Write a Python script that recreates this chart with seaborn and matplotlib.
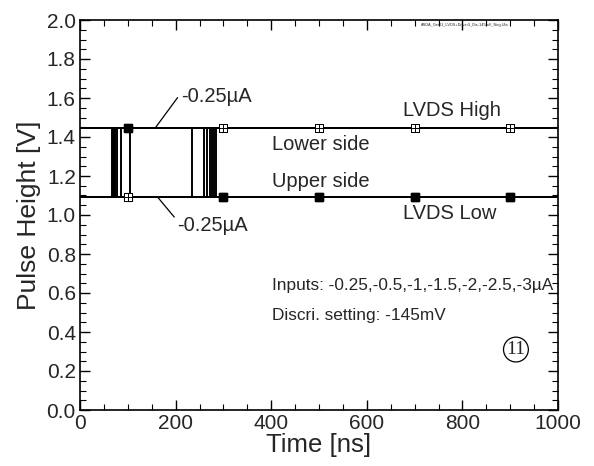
import numpy as np
import pandas as pd
import matplotlib
matplotlib.use("Agg")
import matplotlib.pyplot as plt
from matplotlib.path import Path
from matplotlib.ticker import MultipleLocator
import seaborn as sns

# ---- data ----
inputs_uA = ["-0.25", "-0.5", "-1", "-1.5", "-2", "-2.5", "-3"]
rise_ns = [105, 86, 78, 74, 71, 68, 66]
fall_ns = [234, 259, 265, 271, 276, 281, 285]
lvds_high = 1.445
lvds_low = 1.09
t_start, t_end = 0, 1000
marker_ns = [100, 300, 500, 700, 900]

x_ticks = [0, 200, 400, 600, 800, 1000]
y_ticks = [0.0, 0.2, 0.4, 0.6, 0.8, 1.0, 1.2, 1.4, 1.6, 1.8, 2.0]

# ---- build long-form traces ----
rows = []
for inp, r, f in zip(inputs_uA, rise_ns, fall_ns):
    t = [t_start, r, r, f, f, t_end]
    pos = [lvds_low, lvds_low, lvds_high, lvds_high, lvds_low, lvds_low]
    neg = [lvds_high, lvds_high, lvds_low, lvds_low, lvds_high, lvds_high]
    for ti, v in zip(t, pos):
        rows.append(dict(trace=f"{inp}+", time=ti, V=v))
    for ti, v in zip(t, neg):
        rows.append(dict(trace=f"{inp}-", time=ti, V=v))
df = pd.DataFrame(rows)

sns.set_style("ticks")
plt.rcParams["font.family"] = ["Liberation Sans", "DejaVu Sans"]
plt.rcParams["xtick.direction"] = "in"
plt.rcParams["ytick.direction"] = "in"

fig = plt.figure(figsize=(5.94, 4.66), dpi=100)
ax = fig.add_axes([80/594, 56/466, 478/594, 390/466])

sns.lineplot(data=df, x="time", y="V", units="trace", estimator=None,
             sort=False, color="black", lw=1.2, ax=ax, legend=False)

# crossed-square marker
box_plus = Path([(-1, -1), (1, -1), (1, 1), (-1, 1), (-1, -1),
                 (0, -1), (0, 1), (-1, 0), (1, 0)],
                [Path.MOVETO, Path.LINETO, Path.LINETO, Path.LINETO, Path.CLOSEPOLY,
                 Path.MOVETO, Path.LINETO, Path.MOVETO, Path.LINETO])

mt = np.array(marker_ns)
for k, (inp, r, f) in enumerate(zip(inputs_uA, rise_ns, fall_ns)):
    on = (mt >= r) & (mt < f)
    pos_v = np.where(on, lvds_high, lvds_low)
    neg_v = np.where(on, lvds_low, lvds_high)
    sns.scatterplot(x=mt, y=pos_v, marker="s", s=30, color="black",
                    edgecolor="black", linewidth=0.8, ax=ax, zorder=5 + k, legend=False)
    sns.scatterplot(x=mt, y=neg_v, marker=box_plus, s=30, facecolor="white",
                    edgecolor="black", linewidth=0.7, ax=ax, zorder=5 + k, legend=False)

ax.set_xlim(0, 1000)
ax.set_ylim(0, 2.0)
ax.set_xticks(x_ticks)
ax.set_yticks(y_ticks)
ax.set_xticklabels([str(v) for v in x_ticks])
ax.set_yticklabels([f"{v:.1f}" for v in y_ticks])
ax.xaxis.set_minor_locator(MultipleLocator(50))
ax.yaxis.set_minor_locator(MultipleLocator(0.05))
ax.tick_params(which="both", top=True, right=True, direction="in", color="black")
ax.tick_params(which="major", length=7, width=1.0, labelsize=15, pad=3)
ax.tick_params(which="minor", length=4, width=0.8)
for s in ax.spines.values():
    s.set_linewidth(1.2)
    s.set_color("black")

ax.set_xlabel("Time [ns]", fontsize=18.5, labelpad=0)
ax.set_ylabel("Pulse Height [V]", fontsize=19, labelpad=4)

fs = 14.5
ax.text(676, 1.535, "LVDS High", fontsize=fs, ha="left", va="center")
ax.text(402, 1.36, "Lower side", fontsize=fs, ha="left", va="center")
ax.text(402, 1.17, "Upper side", fontsize=fs, ha="left", va="center")
ax.text(676, 1.01, "LVDS Low", fontsize=fs, ha="left", va="center")
ax.text(402, 0.64, "Inputs: -0.25,-0.5,-1,-1.5,-2,-2.5,-3\u00b5A", fontsize=12.4, ha="left", va="center")
ax.text(402, 0.487, "Discri. setting: -145mV", fontsize=12.4, ha="left", va="center")

ax.annotate("-0.25\u00b5A", xy=(157, lvds_high), xytext=(211, 1.61),
            fontsize=fs, ha="left", va="center",
            arrowprops=dict(arrowstyle="-", color="black", lw=0.9,
                            shrinkA=0, shrinkB=0, relpos=(-0.04, 0.45)))
ax.annotate("-0.25\u00b5A", xy=(163, lvds_low), xytext=(204, 0.944),
            fontsize=fs, ha="left", va="center",
            arrowprops=dict(arrowstyle="-", color="black", lw=0.9,
                            shrinkA=0, shrinkB=0, relpos=(-0.02, 0.85)))

ax.text(912, 0.31, "11", fontsize=14, ha="center", va="center",
        family=["Liberation Serif", "DejaVu Serif"],
        bbox=dict(boxstyle="circle,pad=0.15", fc="white", ec="black", lw=0.9))

ax.text(714, 1.985, "ASDA_Get01_LVDS+Driver3_Dis-145mV_Neg.Ula", fontsize=2.8,
        ha="left", va="top")

fig.savefig("out.png", dpi=100)
